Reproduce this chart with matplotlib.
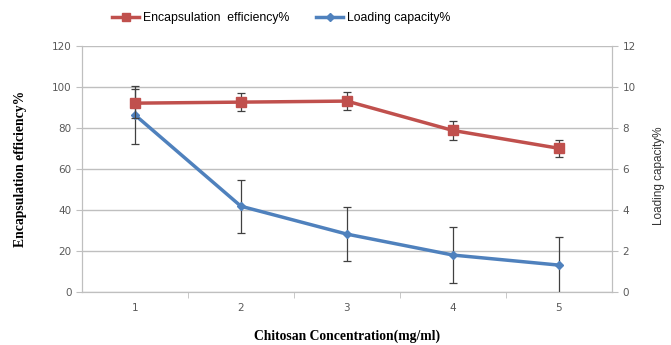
import numpy as np
import matplotlib
matplotlib.use("Agg")
import matplotlib.pyplot as plt
from matplotlib.lines import Line2D

# data
conc = [1, 2, 3, 4, 5]
ee = [92, 92.5, 93, 78.7, 70]          # encapsulation efficiency %
ee_err = [7, 4.5, 4.5, 4.5, 4]
lc = [8.63, 4.18, 2.82, 1.8, 1.31]     # loading capacity %
lc_err = [1.4, 1.3, 1.33, 1.35, 1.35]

red = "#C0504D"
blue = "#4F81BD"
tick_col = "#595959"
grid_col = "#BFBFBF"

fig = plt.figure(figsize=(6.71, 3.45), dpi=100)
ax = fig.add_axes([0.122, 0.1536, 0.79, 0.714])
ax2 = ax.twinx()

ax.set_xlim(0.5, 5.5)
ax.set_ylim(0, 120)
ax2.set_ylim(0, 12)
ax.set_yticks(np.arange(0, 121, 20))
ax2.set_yticks(np.arange(0, 13, 2))
ax.set_xticks(conc)
ax.set_xticks(np.arange(1.5, 5, 1), minor=True)

ax.grid(axis="y", color=grid_col, lw=1)
ax.set_axisbelow(True)

for a in (ax, ax2):
    for s in a.spines.values():
        s.set_color(grid_col)
    a.spines["top"].set_visible(False)
    a.tick_params(colors=grid_col, labelcolor=tick_col, labelsize=7.5, length=4, direction="out")
ax.tick_params(axis="x", which="major", length=0, pad=8)
ax.tick_params(axis="x", which="minor", length=4, color=grid_col)

# blue series on right axis (drawn below red)
ax2.errorbar(conc, lc, yerr=lc_err, color=blue, lw=2.5, marker="D", ms=4.5,
             ecolor="#404040", elinewidth=0.9, capsize=3, capthick=0.9, zorder=2)
ax2.set_zorder(ax.get_zorder() + 1)
ax2.patch.set_visible(False)
# red series also on twin so it stays on top
ax2.errorbar(conc, [v / 10 for v in ee], yerr=[v / 10 for v in ee_err], color=red, lw=2.5,
             marker="s", ms=7, ecolor="#404040", elinewidth=0.9, capsize=3, capthick=0.9, zorder=3)

lab_font = dict(family="Liberation Serif", weight="bold", size=9.8)
ax.set_ylabel("Encapsulation efficiency%", fontdict=lab_font, labelpad=18)
ax.set_xlabel("Chitosan Concentration(mg/ml)", fontdict=lab_font, labelpad=12)
fig.text(0.982, 0.49, "Loading capacity%", rotation=90, ha="center", va="center",
         family="Liberation Sans", size=8.5, color="#333333")

handles = [
    Line2D([], [], color=red, lw=2.5, marker="s", ms=6),
    Line2D([], [], color=blue, lw=2.5, marker="D", ms=4),
]
fig.legend(handles, ["Encapsulation  efficiency%", "Loading capacity%"], loc="center",
           bbox_to_anchor=(0.419, 0.948), ncol=2, frameon=False,
           handlelength=2.2, columnspacing=2.2, handletextpad=0.3,
           prop={"family": "Liberation Sans", "size": 8.8})

fig.savefig("out.png", dpi=100)
